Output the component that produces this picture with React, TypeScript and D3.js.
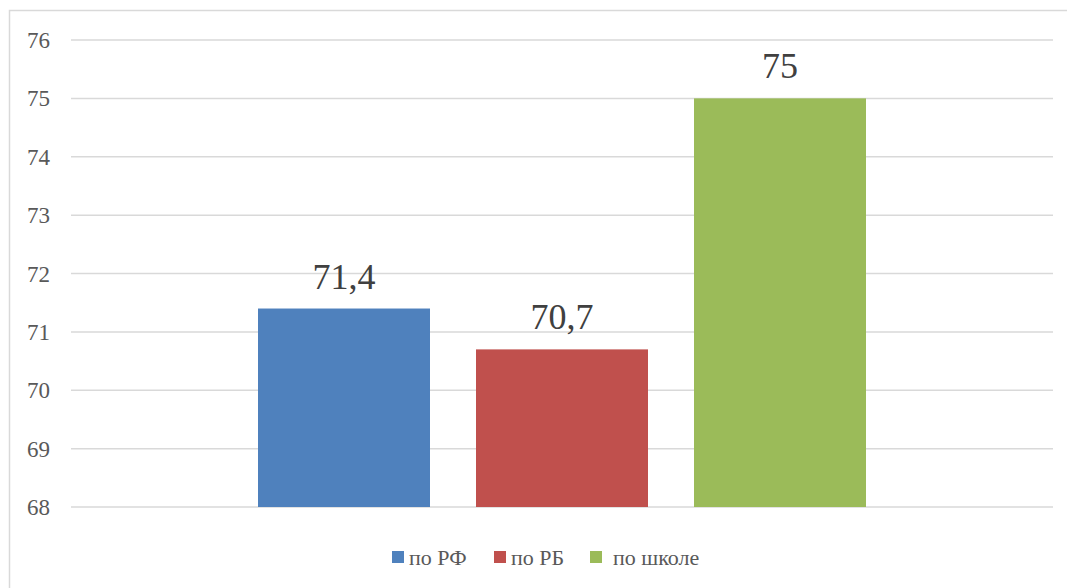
import React, { useRef, useEffect } from "react";
import * as d3 from "d3";

// data
const seriesNames = ["по РФ", "по РБ", "по школе"];
const seriesValues = [71.4, 70.7, 75];
const seriesColors = ["#4f81bd", "#c0504d", "#9bbb59"];
const yTicks = [68, 69, 70, 71, 72, 73, 74, 75, 76];

const serif = "'Liberation Serif', 'Times New Roman', 'DejaVu Serif', serif";

export default function App() {
  const ref = useRef<SVGSVGElement>(null);

  useEffect(() => {
    const width = 1067;
    const height = 588;
    const left = 71;
    const right = 1053;
    const top = 40;
    const bottom = 507;

    const svg = d3.select(ref.current);
    svg.selectAll("*").remove();
    svg.attr("width", width).attr("height", height).style("font-family", serif);

    // outer chart frame
    svg.append("rect")
      .attr("x", 9.5)
      .attr("y", 10.5)
      .attr("width", 1080)
      .attr("height", 600)
      .attr("fill", "#fff")
      .attr("stroke", "#d9d9d9")
      .attr("stroke-width", 1.5);

    const y = d3.scaleLinear().domain([68, 76]).range([bottom, top]);

    // one category, series side by side
    const x = d3.scaleBand()
      .domain(seriesNames)
      .range([258, 866])
      .paddingInner(46 / 218);

    svg.append("g")
      .selectAll("line")
      .data(yTicks)
      .enter()
      .append("line")
      .attr("x1", left)
      .attr("x2", right)
      .attr("y1", d => y(d))
      .attr("y2", d => y(d))
      .attr("stroke", "#d9d9d9")
      .attr("stroke-width", 1.5);

    svg.append("g")
      .selectAll("text")
      .data(yTicks)
      .enter()
      .append("text")
      .attr("x", 50)
      .attr("y", d => y(d))
      .attr("dy", "0.35em")
      .attr("text-anchor", "end")
      .style("font-family", serif)
      .style("font-size", "23px")
      .attr("fill", "#595959")
      .text(d => d);

    const bars = svg.append("g")
      .selectAll("g")
      .data(seriesNames.map((n, i) => ({ name: n, value: seriesValues[i], color: seriesColors[i] })))
      .enter()
      .append("g");

    bars.append("rect")
      .attr("x", d => x(d.name)!)
      .attr("width", x.bandwidth())
      .attr("y", d => y(d.value))
      .attr("height", d => bottom - y(d.value))
      .attr("fill", d => d.color);

    bars.append("text")
      .attr("x", d => x(d.name)! + x.bandwidth() / 2)
      .attr("y", d => y(d.value) - 20)
      .attr("text-anchor", "middle")
      .style("font-family", serif)
      .style("font-size", "36px")
      .attr("fill", "#404040")
      .text(d => String(d.value).replace(".", ","));

    // legend
    const legendX = [392, 494, 590];
    const legendTextX = [409, 511, 613];
    const legend = svg.append("g")
      .selectAll("g")
      .data(seriesNames)
      .enter()
      .append("g");

    legend.append("rect")
      .attr("x", (d, i) => legendX[i])
      .attr("y", 551)
      .attr("width", 12)
      .attr("height", 12)
      .attr("fill", (d, i) => seriesColors[i]);

    legend.append("text")
      .attr("x", (d, i) => legendTextX[i])
      .attr("y", 565)
      .style("font-family", serif)
      .style("font-size", "22px")
      .attr("fill", "#595959")
      .text(d => d);
  }, []);

  return (
    <svg ref={ref} style={{ position: "absolute", left: 0, top: 0, display: "block" }}></svg>
  );
}
